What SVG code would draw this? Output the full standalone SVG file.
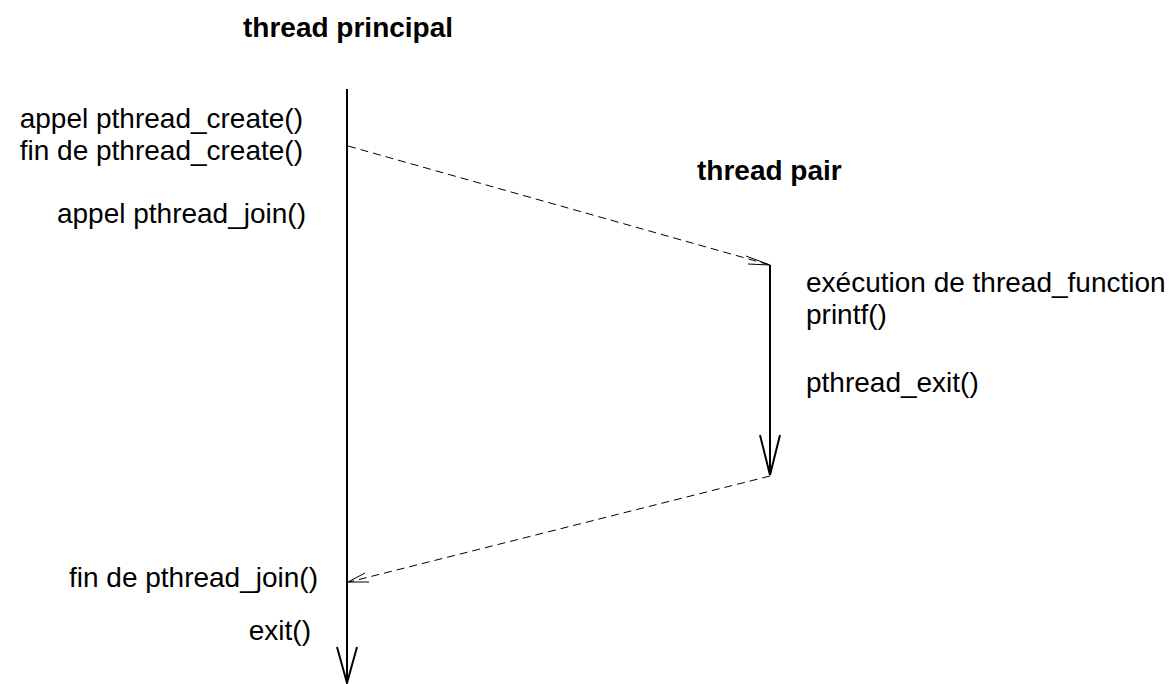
<svg xmlns="http://www.w3.org/2000/svg" width="1171" height="684" viewBox="0 0 1171 684">
  <style>
    text { font-family: "Liberation Sans", Arial, Helvetica, sans-serif; font-size: 28px; fill: #000; }
    .title { font-weight: bold; }
    .end { text-anchor: end; }
    .life { stroke: #000; stroke-width: 2; fill: none; }
    .msg { stroke: #000; stroke-width: 1; stroke-dasharray: 8 5; fill: none; }
    .head { stroke: #000; stroke-width: 1; fill: none; }
    .lifehead { stroke: #000; stroke-width: 2; fill: none; }
  </style>
  <rect width="1171" height="684" fill="#fff"/>

  <!-- main thread lifeline -->
  <g id="main-thread">
    <text class="title" x="243" y="37">thread principal</text>
    <line class="life" x1="347" y1="89" x2="347" y2="683"/>
    <polyline class="lifehead" points="337,647 347,683 357,647"/>
    <text class="end" x="303" y="128">appel pthread_create()</text>
    <text class="end" x="303" y="160">fin de pthread_create()</text>
    <text class="end" x="306" y="223">appel pthread_join()</text>
    <text class="end" x="318" y="587">fin de pthread_join()</text>
    <text class="end" x="311" y="640">exit()</text>
  </g>

  <!-- peer thread lifeline -->
  <g id="peer-thread">
    <text class="title" x="697" y="180">thread pair</text>
    <line class="life" x1="770" y1="265" x2="770" y2="475"/>
    <polyline class="lifehead" points="760,435 770,475 780,435"/>
    <text x="806" y="292">exécution de thread_function</text>
    <text x="806" y="324">printf()</text>
    <text x="806" y="392">pthread_exit()</text>
  </g>

  <!-- connectors between threads -->
  <g id="connectors">
    <line class="msg" x1="348" y1="146" x2="770" y2="265"/>
    <polyline class="head" points="746,256 770,265 748,264"/>
    <line class="msg" x1="770" y1="476" x2="349" y2="582"/>
    <polyline class="head" points="365,573 348,582 369,582"/>
  </g>
</svg>
